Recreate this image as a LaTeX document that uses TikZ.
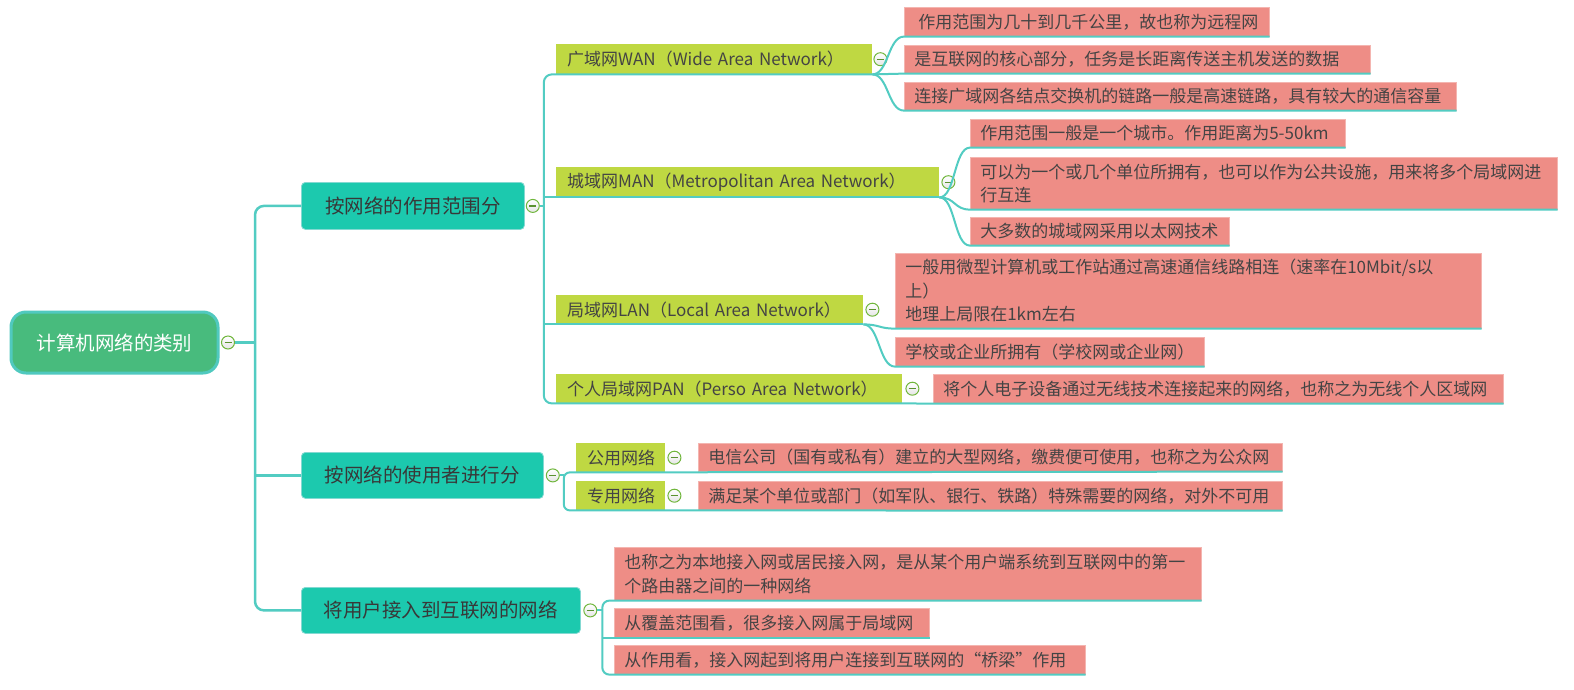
\documentclass[tikz,border=0pt]{standalone}
\usepackage{fontspec}
\setmainfont{Noto Sans CJK SC}
\usepackage{tikz}
\usetikzlibrary{positioning}
\definecolor{rootgreen}{RGB}{72,187,125}
\definecolor{rimteal}{RGB}{80,201,191}
\definecolor{topicteal}{RGB}{28,201,174}
\definecolor{subyellow}{RGB}{191,216,66}
\definecolor{leafred}{RGB}{238,141,134}
\definecolor{linkteal}{RGB}{82,204,194}
\definecolor{foldgreen}{RGB}{112,182,60}
\definecolor{inkgray}{RGB}{68,68,68}
\newcommand{\fwq}[1]{{\addfontfeature{RawFeature=+fwid}#1}}
\tikzset{
  rootbox/.style={draw=rimteal, line width=3pt, fill=rootgreen, rounded corners=15pt,
                  text=white, font=\fontsize{19.5}{24}\selectfont,
                  anchor=north west, inner sep=0pt},
  topicbox/.style={draw=rimteal!70!white, line width=0.8pt, fill=topicteal,
                   rounded corners=4pt, text=black!78, font=\fontsize{19.5}{24}\selectfont,
                   anchor=north west, inner sep=0pt},
  subbox/.style={fill=subyellow, text=inkgray, font=\fontsize{17}{23}\selectfont,
                 anchor=north west, inner xsep=11pt, inner ysep=0pt, align=left},
  leafbox/.style={draw=leafred!65!white, line width=0.6pt, fill=leafred, text=inkgray,
                  font=\fontsize{17}{23.5}\selectfont,
                  anchor=north west, inner xsep=10pt, inner ysep=0pt, align=left},
  link/.style={draw=linkteal, line width=2pt},
  fold/.style={circle, draw=foldgreen, line width=1pt, top color=white,
               bottom color=black!10, minimum size=13pt, inner sep=0pt,
               path picture={\draw[foldgreen!80!black, line width=1.3pt]
                 ([xshift=-3.5pt]path picture bounding box.center) --
                 ([xshift=3.5pt]path picture bounding box.center);}}
}
\begin{document}
\begin{tikzpicture}[x=1pt, y=-1pt]
  \fill[white] (0,0) rectangle (1574,689);
  \useasboundingbox (0,0) rectangle (1574,689);

  % root and first level
  \node[rootbox, minimum width=207pt, minimum height=61pt] (root) at (9.5,310.5) {计算机网络的类别};
  \node[topicbox, minimum width=223pt, minimum height=47pt] (scope) at (301,182) {按网络的作用范围分};
  \node[topicbox, minimum width=242pt, minimum height=46pt] (users) at (301,452) {按网络的使用者进行分};
  \node[topicbox, minimum width=279pt, minimum height=46pt] (access) at (301,587) {将用户接入到互联网的网络};

  % second level
  \node[subbox, text width=294pt, minimum height=30pt] (wan) at (556,44) {\mbox{广域网WAN（Wide Area Network）}};
  \node[subbox, text width=361pt, minimum height=30pt] (man) at (556,167) {\mbox{城域网MAN（Metropolitan Area Network）}};
  \node[subbox, text width=285pt, minimum height=29pt] (lan) at (556,295) {\mbox{局域网LAN（Local Area Network）}};
  \node[subbox, text width=324pt, minimum height=29pt] (pan) at (556,374) {\mbox{个人局域网PAN（Perso Area Network）}};
  \node[subbox, text width=67pt, minimum height=29pt] (public) at (576,443) {公用网络};
  \node[subbox, text width=67pt, minimum height=29pt] (private) at (576,481) {专用网络};

  % third level
  \node[leafbox, text width=345pt, minimum height=29pt] (wan1) at (904,7) {\hspace*{4pt}作用范围为几十到几千公里，故也称为远程网};
  \node[leafbox, text width=446pt, minimum height=28pt] (wan2) at (904,45) {是互联网的核心部分，任务是长距离传送主机发送的数据};
  \node[leafbox, text width=532pt, minimum height=28pt] (wan3) at (904,82) {连接广域网各结点交换机的链路一般是高速链路，具有较大的通信容量};
  \node[leafbox, text width=355pt, minimum height=28pt] (man1) at (970,119) {\mbox{作用范围一般是一个城市。作用距离为5-50km}};
  \node[leafbox, text width=567pt, minimum height=52pt] (man2) at (970,157) {可以为一个或几个单位所拥有，也可以作为公共设施，用来将多个局域网进\\行互连};
  \node[leafbox, text width=239pt, minimum height=28pt] (man3) at (970,217) {大多数的城域网采用以太网技术};
  \node[leafbox, text width=566pt, minimum height=75pt] (lan1) at (895,253) {\mbox{一般用微型计算机或工作站通过高速通信线路相连（速率在10Mbit/s以}\\上）\\地理上局限在1km左右};
  \node[leafbox, text width=289pt, minimum height=29pt] (lan2) at (895,337) {学校或企业所拥有（学校网或企业网）};
  \node[leafbox, text width=550pt, minimum height=29pt] (pan1) at (933,374) {将个人电子设备通过无线技术连接起来的网络，也称之为无线个人区域网};
  \node[leafbox, text width=564pt, minimum height=28pt] (pub1) at (698,443) {电信公司（国有或私有）建立的大型网络，缴费便可使用，也称之为公众网};
  \node[leafbox, text width=564pt, minimum height=29pt] (pri1) at (698,481) {满足某个单位或部门（如军队、银行、铁路）特殊需要的网络，对外不可用};
  \node[leafbox, text width=567pt, minimum height=53pt] (acc1) at (614,547) {也称之为本地接入网或居民接入网，是从某个用户端系统到互联网中的第一\\个路由器之间的一种网络};
  \node[leafbox, text width=295pt, minimum height=29pt] (acc2) at (614,608) {从覆盖范围看，很多接入网属于局域网};
  \node[leafbox, text width=451pt, minimum height=29pt] (acc3) at (614,645) {从作用看，接入网起到将用户连接到互联网的\fwq{“}桥梁\fwq{”}作用};

  % fold marks
  \node[fold, right=1.5pt of root] (froot) {};
  \node[fold, right=1pt of scope] (fscope) {};
  \node[fold, right=2pt of users] (fusers) {};
  \node[fold, right=2.5pt of access] (faccess) {};
  \node[fold, right=1pt of wan] (fwan) {};
  \node[fold, right=2pt of man] (fman) {};
  \node[fold, right=2pt of lan] (flan) {};
  \node[fold, right=3pt of pan] (fpan) {};
  \node[fold, right=2pt of public] (fpublic) {};
  \node[fold, right=2pt of private] (fprivate) {};

  \coordinate (trunk) at ([xshift=20pt]froot.east);
  \coordinate (j1) at ([xshift=4pt]fscope.east);
  \coordinate (j2) at ([xshift=4pt]fusers.east);
  \coordinate (j3) at ([xshift=5pt]faccess.east);

  % root to first level
  \draw[link, line width=3.5pt] (froot) -- (trunk);
  \draw[link, line width=2.5pt, rounded corners=9pt] (scope.west) -- (scope.west -| trunk) -- (access.west -| trunk) -- (access.west);
  \draw[link, line width=2.5pt] (users.west) -- (users.west -| trunk);

  % scope branch
  \draw[link] (fscope) -- (j1);
  \draw[link, rounded corners=8pt] (wan.south east) -- (wan.south west -| j1) -- (pan.south west -| j1) -- (pan.south east) -- (pan1.south west) -- (pan1.south east);
  \draw[link] (man.south east) -- (man.south west -| j1);
  \draw[link] (lan.south east) -- (lan.south west -| j1);
  \draw[link] (wan.south east) .. controls +(16,0) and +(-16,0) .. (wan1.south west) -- (wan1.south east);
  \draw[link] (wan.south east) .. controls +(16,0) and +(-16,0) .. (wan2.south west) -- (wan2.south east);
  \draw[link] (wan.south east) .. controls +(16,0) and +(-16,0) .. (wan3.south west) -- (wan3.south east);
  \draw[link] (man.south east) .. controls +(16,0) and +(-16,0) .. (man1.south west) -- (man1.south east);
  \draw[link] (man.south east) .. controls +(16,0) and +(-16,0) .. (man2.south west) -- (man2.south east);
  \draw[link] (man.south east) .. controls +(16,0) and +(-16,0) .. (man3.south west) -- (man3.south east);
  \draw[link] (lan.south east) .. controls +(16,0) and +(-16,0) .. (lan1.south west) -- (lan1.south east);
  \draw[link] (lan.south east) .. controls +(16,0) and +(-16,0) .. (lan2.south west) -- (lan2.south east);

  % users branch
  \draw[link] (fusers) -- (j2);
  \draw[link, rounded corners=6pt] (pub1.south east) -- (public.south west -| j2) -- (private.south west -| j2) -- (pri1.south east);

  % access branch
  \draw[link] (faccess) -- (j3);
  \draw[link, rounded corners=7pt] (acc1.south east) -- (acc1.south west -| j3) -- (acc3.south west -| j3) -- (acc3.south east);
  \draw[link] (acc2.south east) -- (acc2.south west -| j3);
\end{tikzpicture}
\end{document}
